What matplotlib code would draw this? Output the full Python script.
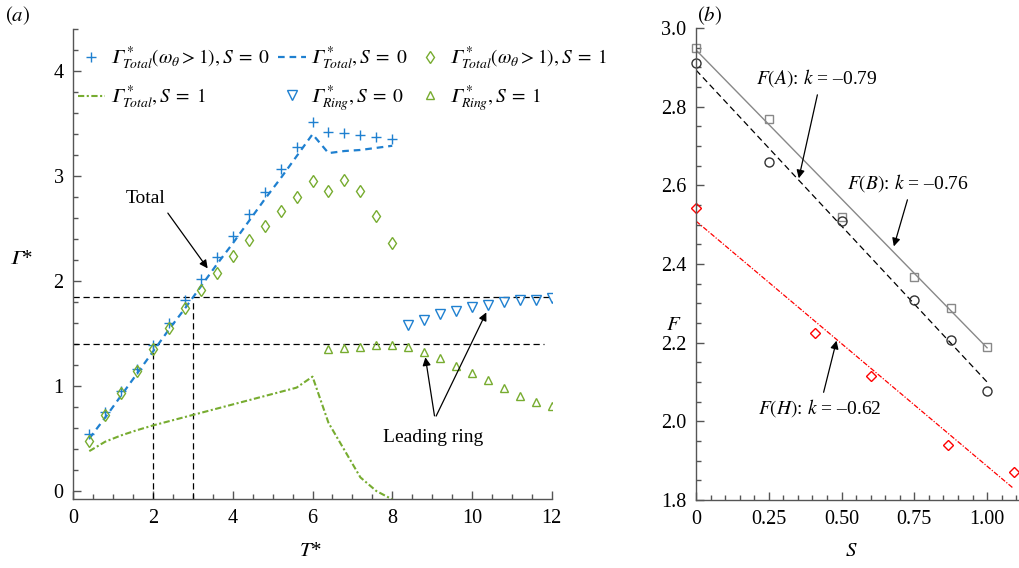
import numpy as np
import matplotlib
matplotlib.use("Agg")
import matplotlib.pyplot as plt
from matplotlib.ticker import MultipleLocator, FixedLocator, FixedFormatter

plt.rcParams['font.family'] = ['Liberation Serif', 'DejaVu Serif']
plt.rcParams['mathtext.fontset'] = 'stix'

# ---- panel (a) data ----
t_total = [0.4, 0.8, 1.2, 1.6, 2.0, 2.4, 2.8, 3.2, 3.6, 4.0,
           4.4, 4.8, 5.2, 5.6, 6.0, 6.4, 6.8, 7.2, 7.6, 8.0]
gam_w_s0 = [0.54, 0.75, 0.95, 1.16, 1.39, 1.60, 1.82, 2.02, 2.23, 2.43,
            2.64, 2.85, 3.07, 3.28, 3.52, 3.42, 3.41, 3.39, 3.37, 3.35]
gam_w_s1 = [0.48, 0.72, 0.93, 1.14, 1.35, 1.55, 1.74, 1.92, 2.08, 2.24,
            2.39, 2.53, 2.67, 2.80, 2.95, 2.86, 2.96, 2.86, 2.62, 2.36]
gam_tot_s0 = [0.50, 0.70, 0.91, 1.12, 1.33, 1.54, 1.74, 1.95, 2.16, 2.36,
              2.57, 2.78, 2.98, 3.19, 3.40, 3.22, 3.24, 3.25, 3.27, 3.29]
gam_tot_s1 = [0.38, 0.47, 0.53, 0.58, 0.625, 0.665, 0.705, 0.745, 0.785, 0.825,
              0.865, 0.905, 0.945, 0.985, 1.09, 0.65, 0.39, 0.13, 0.00, -0.08]

t_ring0 = [8.4, 8.8, 9.2, 9.6, 10.0, 10.4, 10.8, 11.2, 11.6, 12.0]
gam_ring_s0 = [1.58, 1.63, 1.69, 1.72, 1.75, 1.77, 1.80, 1.82, 1.82, 1.84]
t_ring1 = [6.4, 6.8, 7.2, 7.6, 8.0, 8.4, 8.8, 9.2, 9.6, 10.0,
           10.4, 10.8, 11.2, 11.6, 12.0]
gam_ring_s1 = [1.35, 1.36, 1.37, 1.39, 1.39, 1.37, 1.32, 1.27, 1.19, 1.12,
               1.06, 0.98, 0.91, 0.85, 0.81]

ref_levels = [1.85, 1.40]
ref_times = [2.0, 3.0]

# ---- panel (b) data ----
s_ab = [0, 0.25, 0.5, 0.75, 0.875, 1.0]
f_a = [2.948, 2.768, 2.519, 2.368, 2.288, 2.188]
f_b = [2.910, 2.659, 2.509, 2.309, 2.207, 2.078]
s_h = [0, 0.409, 0.600, 0.865, 1.093]
f_h = [2.543, 2.225, 2.116, 1.939, 1.871]

fit_s_ab = [0, 1.0]
fit_a = [2.944, 2.187]
fit_b = [2.893, 2.100]
fit_s_h = [0, 1.09]
fit_h = [2.509, 1.830]

blue = '#1f80d0'
green = '#77AC30'
spine_c = '#555555'

fig = plt.figure(figsize=(10.2, 5.68), dpi=100)
ax1 = fig.add_axes([0.0719, 0.1208, 0.469, 0.8276])
ax2 = fig.add_axes([0.6824, 0.1197, 0.3167, 0.831])

G = '\U0001D6E4'  # italic capital gamma
EQ = r'\;=\;'

# ---- panel (a) ----
ax1.plot(ref_times[0] * np.ones(2), [-0.08, ref_levels[1]], 'k--', lw=0.9, dashes=(5, 3))
ax1.plot(ref_times[1] * np.ones(2), [-0.08, 1.80], 'k--', lw=0.9, dashes=(5, 3))
ax1.plot([0, 12], [ref_levels[0]] * 2, 'k--', lw=0.9, dashes=(5, 3))
ax1.plot([0, 11.8], [ref_levels[1]] * 2, 'k--', lw=0.9, dashes=(5, 3))

h1, = ax1.plot(t_total, gam_w_s0, '+', color=blue, ms=7, mew=1.0,
               label=r'$%s^*_{Total}(\omega_\theta > 1), S%s0$' % (G, EQ))
h3, = ax1.plot(t_total, gam_tot_s0, '--', color=blue, lw=1.6, dashes=(3, 2.2),
               label=r'$%s^*_{Total}, S%s0$' % (G, EQ))
h5, = ax1.plot(t_total, gam_w_s1, 'd', color=green, mfc='none', ms=6.5, mew=1.0,
               label=r'$%s^*_{Total}(\omega_\theta > 1), S%s1$' % (G, EQ))
h2, = ax1.plot(t_total, gam_tot_s1, '-.', color=green, lw=1.5, dashes=(3, 1.2, 1, 1.2),
               label=r'$%s^*_{Total}, S%s1$' % (G, EQ))
h4, = ax1.plot(t_ring0, gam_ring_s0, 'v', color=blue, mfc='none', ms=7, mew=1.0,
               label=r'$%s^*_{Ring}, S%s0$' % (G, EQ))
h6, = ax1.plot(t_ring1, gam_ring_s1, '^', color=green, mfc='none', ms=5.5, mew=1.0,
               label=r'$%s^*_{Ring}, S%s1$' % (G, EQ))

ax1.set_xlim(0, 12)
ax1.set_ylim(-0.08, 4.4)
ax1.xaxis.set_major_locator(MultipleLocator(2))
ax1.xaxis.set_minor_locator(MultipleLocator(0.5))
ax1.yaxis.set_major_locator(FixedLocator([0, 1, 2, 3, 4]))
ax1.yaxis.set_minor_locator(MultipleLocator(0.2))

leg = fig.legend(handles=[h1, h2, h3, h4, h5, h6], ncol=3, loc='upper left',
                 bbox_to_anchor=(0.076, 0.922), frameon=False, fontsize=14,
                 handlelength=1.4, handletextpad=0.25, columnspacing=0.45,
                 labelspacing=0.55, borderaxespad=0, borderpad=0)

ax1.text(1.80, 2.79, 'Total', fontsize=14, ha='center', va='center')
ax1.annotate('', xy=(3.41, 2.10), xytext=(2.33, 2.67),
             arrowprops=dict(arrowstyle='-|>', lw=0.9, color='k', mutation_scale=12))
ax1.text(9.02, 0.51, 'Leading ring', fontsize=14, ha='center', va='center')
for end in [(8.82, 1.30), (10.39, 1.726)]:
    ax1.annotate('', xy=end, xytext=(9.07, 0.69),
                 arrowprops=dict(arrowstyle='-|>', lw=0.9, color='k', mutation_scale=12))

ax1.set_xlabel(r'$T$*', fontsize=15)
ax1.xaxis.set_label_coords(0.495, -0.09)
ax1.set_ylabel(r'$%s$*' % G, fontsize=15, rotation=0)
ax1.yaxis.set_label_coords(-0.11, 0.49)
fig.text(0.005, 0.972, r'$(a)$', fontsize=15, ha='left', va='center')

# ---- panel (b) ----
ax2.plot(fit_s_ab, fit_a, '-', color='#888888', lw=1.0)
ax2.plot(fit_s_ab, fit_b, '--', color='k', lw=0.9, dashes=(5, 3))
ax2.plot(fit_s_h, fit_h, '-.', color='red', lw=0.9, dashes=(4, 1.3, 1, 1.3))
ax2.plot(s_ab, f_a, 's', color='#888888', mfc='none', ms=5.5, mew=1.0, clip_on=False)
ax2.plot(s_ab, f_b, 'o', color='#333333', mfc='none', ms=6.5, mew=1.0, clip_on=False)
ax2.plot(s_h, f_h, 'D', color='red', mfc='none', ms=5.5, mew=1.0, clip_on=False)

ax2.set_xlim(0, 1.11)
ax2.set_ylim(1.8, 3.0)
ax2.xaxis.set_major_locator(FixedLocator([0, 0.25, 0.5, 0.75, 1.0]))
ax2.xaxis.set_major_formatter(FixedFormatter(['0', '0.25', '0.50', '0.75', '1.00']))
ax2.xaxis.set_minor_locator(MultipleLocator(0.05))
ax2.yaxis.set_major_locator(MultipleLocator(0.2))
ax2.yaxis.set_major_formatter(plt.FormatStrFormatter('%.1f'))
ax2.yaxis.set_minor_locator(MultipleLocator(0.05))

arrow_kw = dict(arrowstyle='-|>', lw=0.9, color='k', mutation_scale=12)
ax2.text(0.415, 2.873, r'$F(A)$: $k$ = –0.79', fontsize=14, ha='center', va='center')
ax2.annotate('', xy=(0.351, 2.611), xytext=(0.419, 2.837), arrowprops=arrow_kw)
ax2.text(0.729, 2.606, r'$F(B)$: $k$ = –0.76', fontsize=14, ha='center', va='center')
ax2.annotate('', xy=(0.677, 2.438), xytext=(0.729, 2.570), arrowprops=arrow_kw)
ax2.text(0.426, 2.034, r'$F(H)$: $k$ = –0.62', fontsize=14, ha='center', va='center')
ax2.annotate('', xy=(0.485, 2.212), xytext=(0.436, 2.067), arrowprops=arrow_kw)

ax2.set_xlabel(r'$S$', fontsize=15)
ax2.xaxis.set_label_coords(0.48, -0.09)
ax2.set_ylabel(r'$F$', fontsize=15, rotation=0)
ax2.yaxis.set_label_coords(-0.07, 0.35)
fig.text(0.683, 0.972, r'$(b)$', fontsize=15, ha='left', va='center')

for ax in (ax1, ax2):
    for side in ('top', 'right'):
        ax.spines[side].set_visible(False)
    for side in ('left', 'bottom'):
        ax.spines[side].set_color(spine_c)
        ax.spines[side].set_linewidth(1.0)
    ax.tick_params(which='major', direction='in', length=6, width=1.0, color=spine_c,
                   labelsize=14.5, pad=7)
    ax.tick_params(which='minor', direction='in', length=3.5, width=1.0, color=spine_c)

fig.savefig('out.png', dpi=100)
